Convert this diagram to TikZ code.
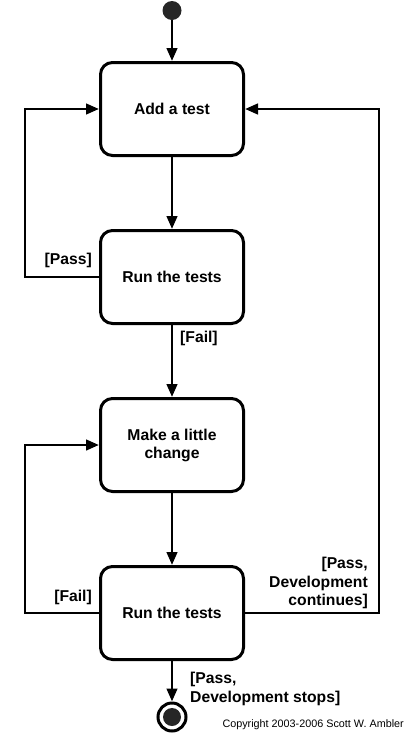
\documentclass[tikz,border=0pt]{standalone}
\usepackage{fontspec}
\setmainfont{Liberation Sans}
\usetikzlibrary{arrows.meta}
\tikzset{
	activity/.style={draw, line width=3pt, rounded corners=12pt, fill=white,
		minimum width=143pt, minimum height=93pt, align=center,
		font=\bfseries\fontsize{15.7}{18}\selectfont},
	flow/.style={line width=2.8pt, -{Triangle[length=13pt,width=10.5pt]}},
	guard/.style={inner sep=0pt, font=\bfseries\fontsize{15.7}{18.5}\selectfont}
}
\newcommand{\myBackLoop}[3]{
	\draw[flow] (#1) -- (#1 -| #3) |- (#2);
}

\begin{document}
\begin{tikzpicture}[x=1pt, y=-1pt]
	\useasboundingbox (0,0) rectangle (407,745);
	\coordinate (leftRail) at (25,0);
	\coordinate (rightRail) at (379,0);

	\node[circle, fill=black!85, inner sep=0pt, minimum size=19pt] (start) at (172,10.5) {};
	\node[activity] (addTest) at (172,109) {Add a test};
	\node[activity] (runTests) at (172,277) {Run the tests};
	\node[activity] (change) at (172,445) {Make a little\\change};
	\node[activity] (runAgain) at (172,613) {Run the tests};
	\node[circle, draw, line width=3pt, inner sep=0pt, minimum size=28pt] (stop) at (172,717) {};
	\fill[black!85] (stop.center) circle (9pt);

	\draw[flow] (start) -- (addTest);
	\draw[flow] (addTest) -- (runTests);
	\draw[flow] (runTests) -- (change);
	\draw[flow] (change) -- (runAgain);
	\draw[flow] (runAgain) -- (stop);
	\myBackLoop{runTests.west}{addTest.west}{leftRail}
	\myBackLoop{runAgain.west}{change.west}{leftRail}
	\myBackLoop{runAgain.east}{addTest.east}{rightRail}

	\node[guard, anchor=east] (passOne) at (92,260) {[Pass]};
	\node[guard, anchor=west] (failOne) at (180,338) {[Fail]};
	\node[guard, anchor=east] (failTwo) at (92,597) {[Fail]};
	\node[guard, anchor=south east, align=right] (passGo) at (368,609) {[Pass,\\Development\\continues]};
	\node[guard, anchor=north west, align=left] (passStop) at (190,672) {[Pass,\\Development stops]};
	\node[anchor=east, inner sep=0pt, font=\fontsize{10.8}{12}\selectfont] (copy) at (404,725) {Copyright 2003-2006 Scott W. Ambler};
\end{tikzpicture}
\end{document}
